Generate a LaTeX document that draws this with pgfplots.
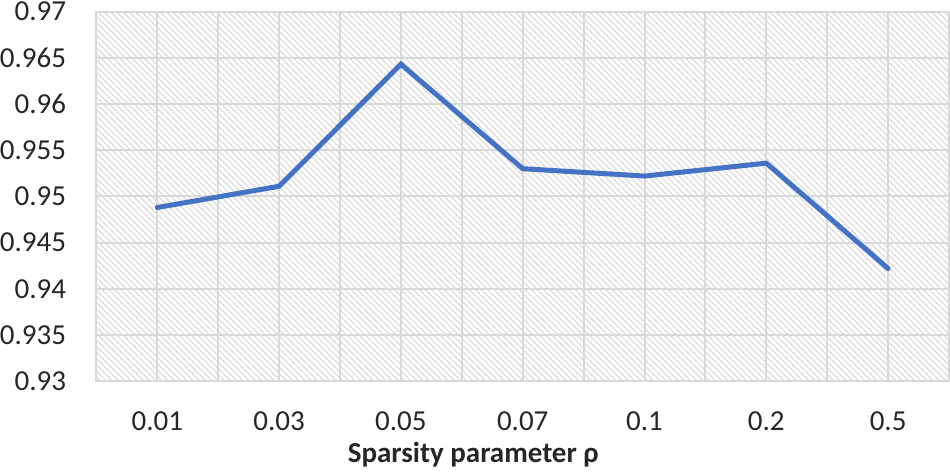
\documentclass[border=0pt]{standalone}
\usepackage{pgfplots}
\pgfplotsset{compat=1.18}
\usepackage{fontspec}
\setmainfont{Carlito}
\usetikzlibrary{patterns.meta}
\definecolor{xlblue}{RGB}{68,114,196}
\definecolor{gridgray}{RGB}{217,217,217}
\begin{document}
\begin{tikzpicture}
\begin{axis}[
  scale only axis,
  width=426.5pt, height=185pt,
  xmin=-0.5, xmax=6.5,
  ymin=0.93, ymax=0.97,
  xtick={0,1,2,3,4,5,6},
  xticklabels={0.01,0.03,0.05,0.07,0.1,0.2,0.5},
  minor xtick={-0.5,0.5,1.5,2.5,3.5,4.5,5.5,6.5},
  ytick={0.93,0.935,0.94,0.945,0.95,0.955,0.96,0.965,0.97},
  yticklabels={0.93,0.935,0.94,0.945,0.95,0.955,0.96,0.965,0.97},
  major tick length=0pt, minor tick length=0pt,
  xmajorgrids, xminorgrids, ymajorgrids,
  grid style={gridgray, line width=1pt},
  minor grid style={gridgray, line width=1pt},
  axis line style={gridgray, line width=1pt},
  axis background/.style={fill=white, postaction={pattern={Lines[angle=-45,distance=2.2pt,line width=0.7pt]}, pattern color=gray!25}},
  tick label style={font=\fontsize{14.5}{16}\selectfont, text=black!85},
  xticklabel style={anchor=base, yshift=-24.7pt},
  yticklabel style={inner xsep=0pt, inner ysep=1pt, xshift=-15pt},
  xlabel={\textbf{Sparsity parameter ρ}},
  xlabel style={font=\fontsize{14.5}{16}\selectfont, text=black!85, at={(axis description cs:0.442,0)}, anchor=base, yshift=-40.5pt},
  clip=false,
]
\addplot[xlblue, line width=2.5pt, line cap=round, mark=none] coordinates {
 (0,0.9488) (1,0.9511) (2,0.9643) (3,0.9530) (4,0.9522) (5,0.9536) (6,0.9422)
};
\end{axis}
\end{tikzpicture}
\end{document}
